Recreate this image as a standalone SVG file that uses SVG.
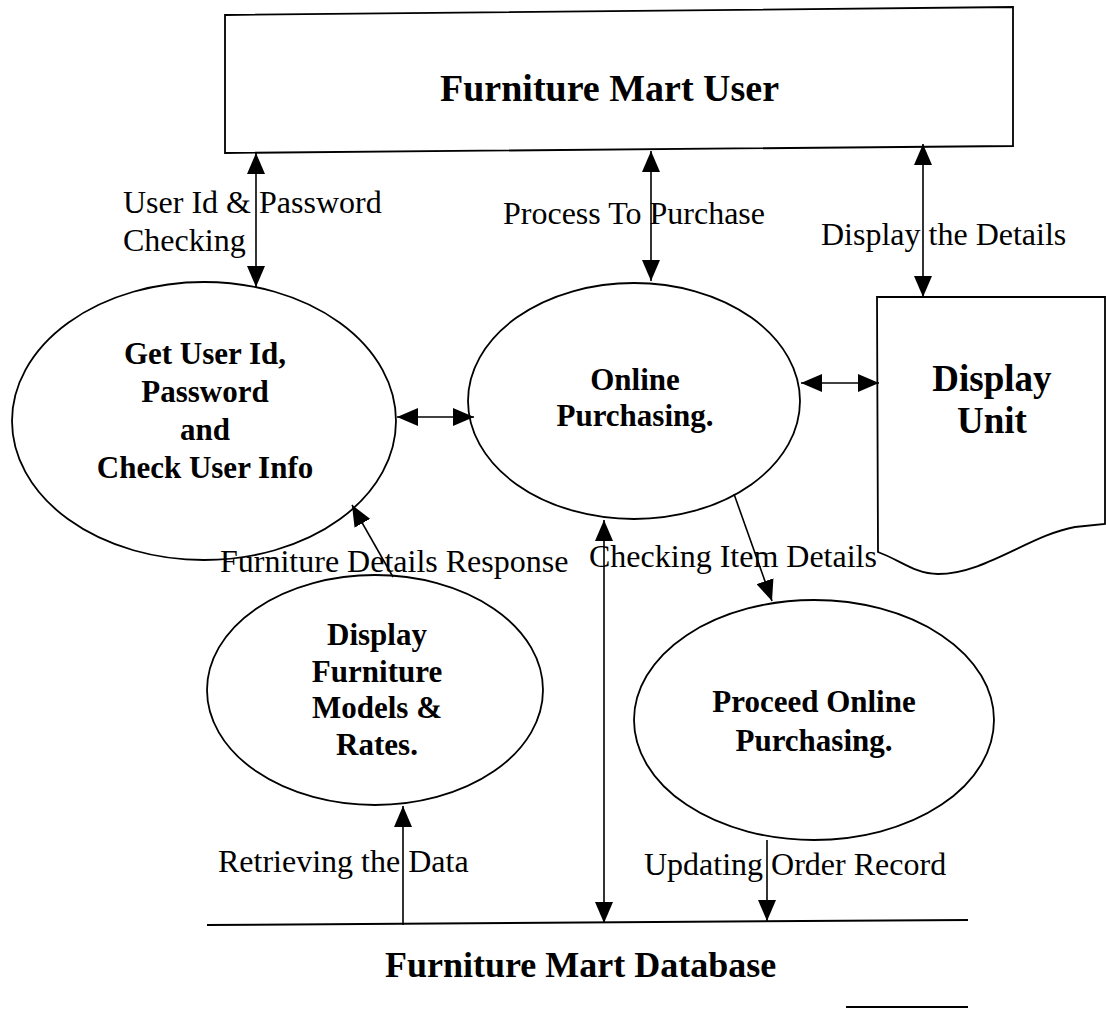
<svg xmlns="http://www.w3.org/2000/svg" width="1106" height="1010" viewBox="0 0 1106 1010">
<style>
.shape{fill:#fff;stroke:#000;stroke-width:1.8}
.bold{font-family:"Liberation Serif","Times New Roman",serif;font-weight:bold;fill:#000}
.lbl{font-family:"Liberation Serif","Times New Roman",serif;font-size:32px;fill:#000}
.c{text-anchor:middle}
.flow{stroke:#000;stroke-width:1.6;fill:none}
</style>
<defs>
<marker id="ah" markerUnits="userSpaceOnUse" markerWidth="22" markerHeight="18" viewBox="0 0 22 18" refX="21" refY="9" orient="auto-start-reverse">
<path d="M0,0 L21,9 L0,18 Z" fill="#000"/>
</marker>
</defs>
<rect width="1106" height="1010" fill="#fff"/>

<g id="user">
<path class="shape" d="M225,15 L1013,7 L1013,146 L225,153 Z"/>
<text class="bold" x="440" y="101" font-size="38">Furniture Mart User</text>
</g>

<g id="get-user">
<ellipse class="shape" cx="204" cy="421" rx="192" ry="139"/>
<text class="bold c" font-size="31" x="205" y="364">Get User Id,</text>
<text class="bold c" font-size="31" x="205" y="402">Password</text>
<text class="bold c" font-size="31" x="205" y="440">and</text>
<text class="bold c" font-size="31" x="205" y="478">Check User Info</text>
</g>

<g id="online-purchasing">
<ellipse class="shape" cx="634" cy="401" rx="166" ry="118"/>
<text class="bold c" font-size="31" x="635" y="390">Online</text>
<text class="bold c" font-size="31" x="635" y="426">Purchasing.</text>
</g>

<g id="display-unit">
<path class="shape" d="M877,297 L1105,297 L1105,524 L1075,527 C1030,535 985,574 938,574 C915,574 900,560 878,552 Z"/>
<text class="bold c" font-size="37" x="992" y="391">Display</text>
<text class="bold c" font-size="37" x="992" y="433">Unit</text>
</g>

<g id="display-furniture">
<ellipse class="shape" cx="375" cy="690" rx="168" ry="115"/>
<text class="bold c" font-size="31" x="377" y="645">Display</text>
<text class="bold c" font-size="31" x="377" y="682">Furniture</text>
<text class="bold c" font-size="31" x="377" y="718">Models &amp;</text>
<text class="bold c" font-size="31" x="377" y="755">Rates.</text>
</g>

<g id="proceed-online">
<ellipse class="shape" cx="814" cy="720" rx="180" ry="120"/>
<text class="bold c" font-size="31" x="814" y="712">Proceed Online</text>
<text class="bold c" font-size="31" x="814" y="751">Purchasing.</text>
</g>

<g id="database">
<line x1="207" y1="925" x2="968" y2="920" stroke="#000" stroke-width="2"/>
<line x1="846" y1="1007" x2="968" y2="1007" stroke="#000" stroke-width="2"/>
<text class="bold" x="385" y="977" font-size="36">Furniture Mart Database</text>
</g>

<g id="connectors">
<line class="flow" x1="256" y1="153" x2="256" y2="287" marker-start="url(#ah)" marker-end="url(#ah)"/>
<line class="flow" x1="651" y1="151" x2="651" y2="281" marker-start="url(#ah)" marker-end="url(#ah)"/>
<line class="flow" x1="923" y1="144" x2="923" y2="297" marker-start="url(#ah)" marker-end="url(#ah)"/>
<line class="flow" x1="397" y1="417" x2="474" y2="417" marker-start="url(#ah)" marker-end="url(#ah)"/>
<line class="flow" x1="801" y1="383" x2="879" y2="383" marker-start="url(#ah)" marker-end="url(#ah)"/>
<line class="flow" x1="393" y1="577" x2="352" y2="505" marker-end="url(#ah)"/>
<line class="flow" x1="604" y1="520" x2="604" y2="923" marker-start="url(#ah)" marker-end="url(#ah)"/>
<line class="flow" x1="734" y1="494" x2="772" y2="601" marker-end="url(#ah)"/>
<line class="flow" x1="767" y1="840" x2="767" y2="921" marker-end="url(#ah)"/>
<line class="flow" x1="403" y1="925" x2="403" y2="806" marker-end="url(#ah)"/>
<text class="lbl" x="123" y="213">User Id &amp; Password</text>
<text class="lbl" x="123" y="251">Checking</text>
<text class="lbl" x="503" y="224">Process To Purchase</text>
<text class="lbl" x="821" y="245">Display the Details</text>
<text class="lbl" x="220" y="572">Furniture Details Response</text>
<text class="lbl" x="589" y="567">Checking Item Details</text>
<text class="lbl" x="218" y="872">Retrieving the Data</text>
<text class="lbl" x="644" y="875">Updating Order Record</text>
</g>
</svg>
